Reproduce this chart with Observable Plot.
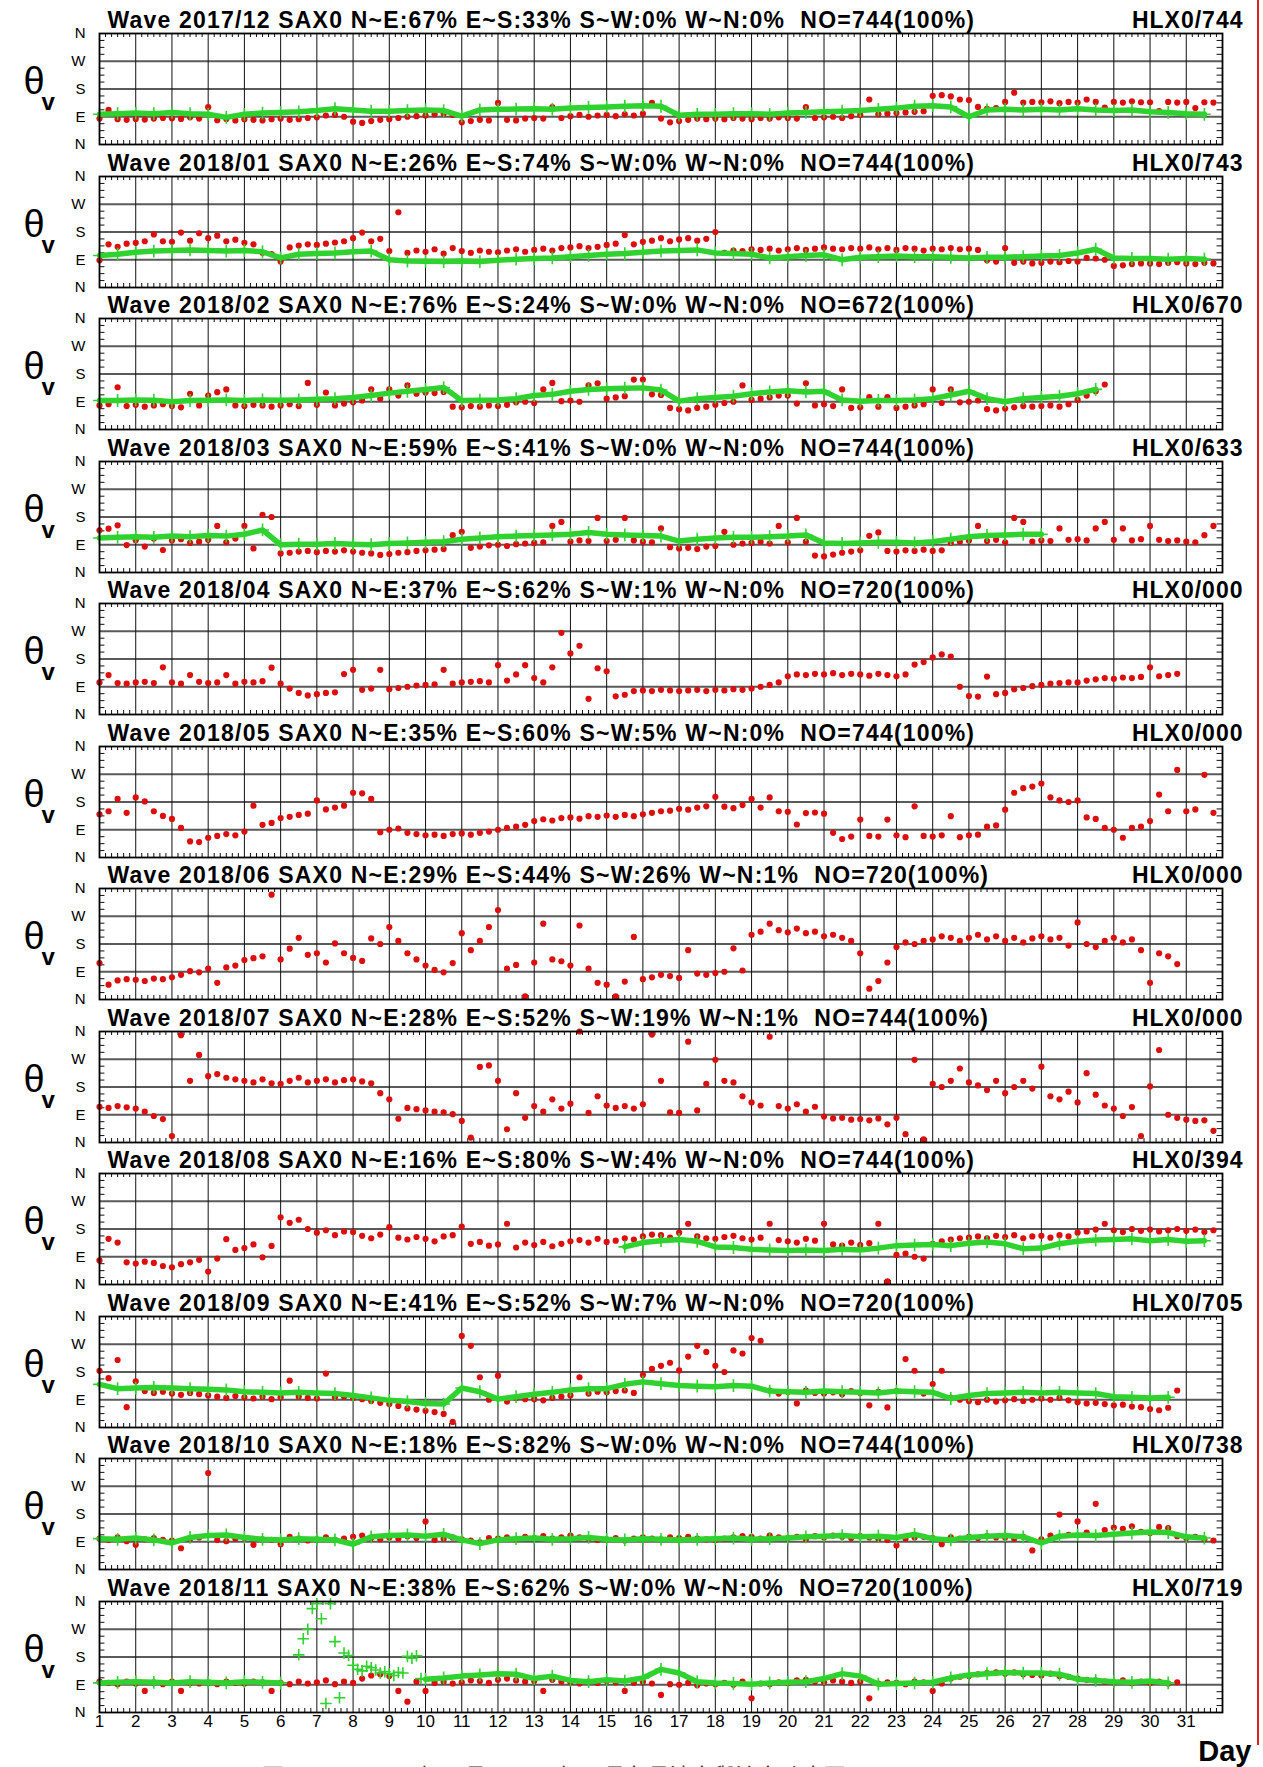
<!DOCTYPE html>
<html><head><meta charset="utf-8">
<script src="https://cdn.jsdelivr.net/npm/d3@7"></script>
<script src="https://cdn.jsdelivr.net/npm/@observablehq/plot@0.6"></script>
<style>
html,body{margin:0;padding:0;background:#fff;}
body{width:1263px;height:1767px;overflow:hidden;position:relative;font-family:"Liberation Sans",Arial,sans-serif;}
#charts{position:absolute;left:0;top:0;width:1263px;height:1767px;}
#charts svg{position:absolute;left:0;overflow:visible;background:transparent;}
#edge{position:absolute;left:1257px;top:0;width:2px;height:1745px;background:#e02020;}
#caption{position:absolute;left:262px;top:1758px;font-size:22px;color:#333;white-space:pre;font-family:"Noto Sans CJK TC",sans-serif;}
</style></head><body>
<div id="charts"></div><div id="edge"></div>
<div id="caption">圖 4.2-1      2017年12月至2018年11月各月波向與流向時序圖</div>
<script>
const months = ["2017/12","2018/01","2018/02","2018/03","2018/04","2018/05","2018/06","2018/07","2018/08","2018/09","2018/10","2018/11"];
const pctNE = [67,26,76,59,37,35,29,28,16,41,18,38];
const pctES = [33,74,24,41,62,60,44,52,80,52,82,62];
const pctSW = [0,0,0,0,1,5,26,19,4,7,0,0];
const pctWN = [0,0,0,0,0,0,1,1,0,0,0,0];
const obsNO = [744,744,672,744,720,744,720,744,744,720,744,720];
const hlxNO = ["744","743","670","633","000","000","000","000","394","705","738","719"];
const dayTicks = d3.range(1, 32);
const dirTicks = [0, 90, 180, 270, 360];
const dirLabels = ["N", "E", "S", "W", "N"];

// wave direction (red), 6-hourly samples starting day 1 00h
const red1712 = [84,112,82,80, 83,81,84,86, 85,83,88,84, 121,79,83,78, 82,80,78,82, 84,80,82,86, 88,94,96,90, 74,70,76,80, 82,86,90,92, 94,98,100,96, 72,76,80,78, 135,80,78,84, 86,84,121,86, 92,96,90,94, 96,92,98,94, 100,135,84,72, 76,80,84,82, 84,82,86,84, 82,86,84,88, 86,84,121,86, 88,90,86,92, 96,146,98,100, 102,104,106,108, 158,160,156,146, 144,122,116,118, 138,168,136,138, 137,140,134,138, 136,146,138,120, 138,136,140,137, 137,108,138,136, 138,118,137,136];
const red1801 = [88,140,132,142, 145,150,172,150, 148,178,152,176, 160,168,150,155, 145,140,112,108, 84,130,136,140, 138,142,146,150, 160,178,150,158, 118,244,112,120, 116,124,110,128, 118,112,120,116, 114,120,124,116, 122,126,120,128, 130,134,128,132, 138,142,170,140, 148,152,160,150, 156,160,152,158, 180,112,120,118, 124,122,126,120, 124,128,122,126, 130,126,124,128, 126,130,124,128, 122,128,126,120, 126,124,128,124, 126,122,88,84, 128,80,84,78, 80,84,82,86, 84,96,94,90, 70,72,76,78, 78,76,80,82, 78,76,80,78];
const red1802 = [78,82,137,76, 80,74,78,82, 76,72,116,78, 110,121,130,78, 76,80,78,74, 78,82,76,151, 80,120,78,84, 88,94,130,100, 130,110,143,116, 120,118,122,74, 72,76,74,78, 76,80,88,90, 86,130,151,92, 94,90,143,150, 100,104,108,162, 162,114,112,70, 66,62,70,74, 80,86,90,143, 96,100,104,110, 110,84,150,78, 82,76,130,70, 72,105,74,105, 70,74,78,82, 130,86,130,88, 90,94,66,62, 68,72,76,74, 76,78,74,82, 96,110,124,146];
const red1803 = [137,142,153,89, 105,84,110,73, 104,108,96,100, 106,151,98,110, 151,78,187,180, 62,64,68,70, 66,70,68,72, 68,64,62,57, 60,64,66,70, 72,74,76,121, 132,80,84,88, 90,86,92,94, 96,98,151,164, 100,104,102,177, 102,106,177,104, 100,98,143,82, 78,80,76,84, 86,132,90,94, 96,100,94,151, 98,177,100,55, 52,58,64,68, 72,119,130,70, 68,72,70,74, 70,72,96,100, 104,151,102,106, 98,177,164,100, 104,102,143,106, 108,104,143,164, 106,143,104,108, 151,106,102,104, 100,98,121,151];
const red1804 = [104,128,102,100, 104,106,102,153, 104,100,128,106, 102,104,128,100, 106,104,108,152, 100,84,70,62, 66,70,72,131, 145,80,84,145, 82,86,90,94, 96,98,145,100, 104,106,108,104, 160,110,130,160, 118,104,153,265, 198,223,51,150, 140,59,64,76, 78,76,80,78, 76,78,80,76, 80,78,82,80, 84,90,96,104, 124,130,128,132, 130,134,128,132, 130,126,132,128, 124,130,162,170, 185,195,188,90, 60,58,123,66, 70,82,86,92, 96,100,102,104, 104,110,114,118, 116,120,118,122, 153,124,128,132];
const red1805 = [140,150,190,145, 195,182,150,135, 125,96,52,50, 64,70,76,72, 84,168,106,112, 128,132,138,142, 185,156,162,168, 210,208,190,82, 90,94,80,76, 72,74,70,76, 78,74,80,84, 90,96,100,106, 118,124,120,128, 130,126,134,132, 136,132,138,134, 140,145,150,152, 158,155,162,166, 197,165,160,170, 190,162,195,150, 148,107,144,146, 142,80,60,68, 123,70,68,123, 72,66,166,70, 68,72,134,66, 72,74,100,104, 155,210,225,230, 240,195,185,180, 185,130,125,96, 90,64,96,100, 118,204,150,284, 150,156,268,145];
const red1806 = [118,48,62,66, 64,60,68,66, 72,80,92,88, 100,54,104,110, 128,134,140,340, 130,165,200,145, 150,120,182,150, 135,125,198,180, 235,190,150,130, 110,96,88,118, 215,160,190,235, 290,100,112,10, 120,246,130,124, 110,240,100,54, 48,10,58,203, 66,72,80,76, 70,160,84,80, 86,90,166,94, 210,220,246,225, 218,230,215,220, 205,210,200,190, 150,35,60,120, 170,185,180,190, 195,205,200,190, 200,210,195,205, 190,200,185,198, 205,195,200,175, 250,180,170,190, 200,185,195,160, 54,150,140,115];
const red1807 = [116,112,118,114, 110,100,86,76, 21,348,200,284, 215,222,210,205, 200,195,205,192, 190,200,210,195, 200,205,195,202, 205,198,192,160, 140,77,112,108, 104,100,98,92, 70,16,245,250, 200,43,160,80, 118,100,140,110, 126,360,96,150, 120,112,118,110, 124,350,200,98, 96,327,104,190, 268,200,195,150, 130,120,343,118, 110,124,100,116, 84,78,80,74, 76,72,78,59, 80,27,268,10, 190,180,200,240, 195,185,170,200, 160,180,200,175, 246,150,140,165, 130,225,155,120, 110,86,115,21, 182,300,90,80, 74,70,72,38];
const red1808 = [78,148,136,72, 68,74,70,60, 56,66,72,80, 42,84,147,112, 118,130,88,125, 218,200,210,180, 168,176,160,172, 170,158,150,162, 186,152,146,154, 148,140,156,160, 188,132,138,126, 130,197,120,136, 128,138,124,132, 140,144,136,148, 138,142,150,146, 156,162,160,152, 168,197,156,150, 148,154,158,150, 146,152,197,144, 140,136,148,142, 197,130,126,136, 128,134,197,10, 96,100,90,84, 132,140,146,150, 152,156,150,158, 154,160,150,156, 158,152,160,156, 168,172,178,197, 176,170,180,174, 178,172,176,180, 174,178,170,176];
const red1809 = [184,160,219,66, 150,118,112,116, 110,106,112,108, 104,100,96,102, 98,94,100,92, 98,152,100,96, 94,175,98,100, 96,92,86,80, 76,70,62,58, 54,50,44,18, 297,265,163,90, 168,84,96,92, 92,88,96,100, 104,163,110,116, 114,118,120,112, 170,190,200,210, 185,230,265,245, 200,180,250,240, 290,281,120,110, 116,78,120,112, 110,114,108,118, 112,72,116,65, 118,222,184,110, 141,184,96,90, 86,82,90,84, 88,92,86,90, 94,90,96,88, 82,78,80,76, 72,74,68,66, 60,56,64,120];
const red1810 = [100,96,104,92, 80,98,102,96, 94,69,100,104, 313,96,92,100, 102,80,98,96, 82,106,100,94, 98,104,96,100, 106,110,102,98, 104,100,108,102, 156,96,100,104, 98,94,88,102, 100,104,98,106, 102,108,100,104, 110,104,100,96, 98,102,94,100, 104,100,98,104, 102,106,100,98, 96,100,104,108, 106,100,110,104, 102,106,98,108, 104,110,106,102, 108,104,100,96, 78,100,104,106, 102,82,104,100, 106,102,108,104, 104,100,106,62, 98,110,178,112, 156,120,213,128, 136,132,140,122, 118,138,134,108, 102,106,98,94];
const red1811 = [100,96,92,100, 94,70,98,92, 100,70,96,94, 98,92,100,96, 94,100,98,70, 96,92,100,94, 98,104,92,100, 96,110,120,124, 118,70,35,100, 70,96,100,94, 98,104,102,96, 106,110,104,100, 102,70,106,100, 98,94,100,96, 102,98,70,96, 100,94,57,92, 90,96,88,94, 92,96,90,100, 46,94,92,98, 96,104,106,100, 98,104,100,96, 100,46,94,98, 96,92,100,98, 70,94,110,116, 118,124,128,130, 126,130,124,122, 120,126,118,116, 110,106,104,100, 98,104,96,100, 96,100,94,98];

// current direction (green), 12-hourly samples
const green1712 = [98,100, 102,100, 104,100, 98,88, 98,102, 104,106, 110,116, 112,108, 108,110, 112,110, 92,112, 114,115, 116,114, 118,120, 122,124, 126,124, 95,98, 98,100, 100,98, 102,104, 106,108, 110,114, 118,124, 126,122, 90,112, 114,112, 114,112, 116,112, 110,112, 106,104, 100,98];
const green1801 = [104,108, 114,118, 120,122, 120,118, 120,116, 96,108, 110,112, 116,118, 90,86, 85,84, 86,84, 88,92, 94,96, 100,104, 108,110, 114,118, 120,122, 112,110, 108,96, 100,104, 106,90, 98,100, 102,100, 100,98, 96,98, 98,100, 102,104, 112,124, 96,94, 94,92, 94,92];
const green1802 = [94,94, 96,95, 90,94, 95,96, 94,96, 95,96, 98,100, 104,110, 118,124, 130,136, 94,95, 96,100, 110,114, 124,130, 132,134, 135,128, 92,100, 104,108, 116,122, 126,122, 124,96, 92,94, 94,96, 100,112, 124,100, 90,100, 104,108, 116,130];
const green1803 = [112,114, 116,114, 118,116, 120,118, 124,138, 90,92, 92,94, 92,90, 94,96, 98,100, 108,112, 116,118, 120,122, 124,130, 124,122, 120,118, 102,108, 112,114, 114,116, 118,122, 96,94, 96,98, 98,96, 100,108, 116,120, 122,124, 124];
const green1808 = [122,136, 142,146, 140,122, 120,114, 112,110, 112,110, 114,112, 118,126, 128,130, 126,134, 138,132, 116,118, 132,140, 144,146, 148,142, 146,140, 142];
const green1809 = [140,126, 128,130, 128,126, 124,122, 116,114, 112,114, 112,110, 104,96, 88,84, 78,76, 128,116, 92,100, 108,114, 122,126, 126,140, 148,142, 136,134, 132,136, 134,118, 116,114, 118,116, 114,112, 118,116, 114,94, 104,110, 112,114, 112,114, 112,110, 100,98, 96,98];
const green1810 = [100,98, 102,96, 86,104, 110,112, 104,98, 96,100, 98,96, 82,106, 110,112, 108,114, 96,84, 96,100, 102,98, 100,104, 98,96, 100,98, 96,98, 100,102, 98,100, 102,106, 108,110, 106,108, 104,114, 100,96, 104,108, 110,106, 86,108, 112,110, 114,118, 122,120, 106,102];
const green1811 = [96,98, 100,98, 96,100, 98,96, 100,98, 96,null, null,null, null,null, null,null, 108,112, 118,122, 126,124, 110,118, 104,100, 106,102, 112,140, 128,100, 96,94, 92,96, 98,100, 110,126, 118,92, 94,96, 98,112, 122,126, 130,128, 128,124, 108,104, 100,98, 102,96];
// scattered current readings 2018/11, 3-hourly from day 6.5
const greenScatter1811 = [187,239,270,337,353,304,29,353,230,48,193,185,153,140,135,150,145,138,128,132,126,120,130,128,182,176,184,110];

const redSeries = [red1712,red1801,red1802,red1803,red1804,red1805,red1806,red1807,red1808,red1809,red1810,red1811];
const greenSeries = [green1712,green1801,green1802,green1803,null,null,null,null,green1808,green1809,green1810,green1811];
const greenStart = [1,1,1,1,null,null,null,null,15.5,1,1,1];

const RED = "#dc0f0f", GREEN = "#2fd22f";
const PITCH = 142.5;
const minorX = d3.range(1, 32).flatMap(d => [1,2,3,4,5].map(k => d + k / 6));
const minorY = d3.range(0, 360, 22.5).filter(v => v % 90 !== 0);
const container = document.getElementById("charts");

months.forEach((m, i) => {
  const last = i === months.length - 1;
  const red = redSeries[i].map((v, k) => ({t: 1 + k / 4, v}));
  const gArr = greenSeries[i];
  const green = gArr ? gArr.map((v, k) => ({t: greenStart[i] + k / 2, v})) : [];
  const scatter = last ? greenScatter1811.map((v, k) => ({t: 6.5 + k / 8, v})) : [];
  const title = `Wave ${m} SAX0 N~E:${pctNE[i]}% E~S:${pctES[i]}% S~W:${pctSW[i]}% W~N:${pctWN[i]}%\u00a0 NO=${obsNO[i]}(100%)`;
  const marks = [
    Plot.ruleY([90, 180, 270], {stroke: "#5a5a5a", strokeWidth: 2}),
    Plot.ruleX(d3.range(2, 32), {stroke: "#111", strokeWidth: 1}),
    Plot.ruleX(minorX, {y1: 360, y2: 347, stroke: "#111", strokeWidth: 1}),
    Plot.ruleX(minorX, {y1: 0, y2: 13, stroke: "#111", strokeWidth: 1}),
    Plot.ruleY(minorY, {x1: 1, x2: 1.15, stroke: "#111", strokeWidth: 1}),
    Plot.ruleY(minorY, {x1: 32, x2: 31.85, stroke: "#111", strokeWidth: 1}),
    Plot.dot(red, {x: "t", y: "v", r: 3.1, fill: RED}),
    Plot.line(green, {x: "t", y: "v", stroke: GREEN, strokeWidth: 5.5}),
    Plot.dot(green, {x: "t", y: "v", symbol: "plus", r: 4.2, stroke: GREEN, strokeWidth: 1.6}),
    Plot.dot(scatter, {x: "t", y: "v", symbol: "plus", r: 3.8, stroke: GREEN, strokeWidth: 1.6}),
    Plot.frame({stroke: "#000", strokeWidth: 1.8}),
    Plot.text(dirTicks, {y: d => d, text: (d, j) => dirLabels[j], frameAnchor: "left", dx: -14, textAnchor: "end", fontSize: 15}),
    Plot.text([title], {text: d => d, frameAnchor: "top-left", lineAnchor: "middle", dx: 8, dy: -13, textAnchor: "start", fontSize: 23, fontWeight: "bold"}),
    Plot.text([`HLX0/${hlxNO[i]}`], {text: d => d, frameAnchor: "top-right", lineAnchor: "middle", dx: 21, dy: -13, textAnchor: "end", fontSize: 23, fontWeight: "bold"}),
    Plot.text(["θ"], {text: d => d, frameAnchor: "left", lineAnchor: "middle", dx: -76, dy: -7, fontSize: 38}),
    Plot.text(["v"], {text: d => d, frameAnchor: "left", lineAnchor: "middle", dx: -58, dy: 13, fontSize: 24, fontWeight: "bold"})
  ];
  if (last) {
    marks.push(Plot.text(dayTicks, {x: d => d, text: d => String(d), frameAnchor: "bottom", lineAnchor: "middle", dy: 9, fontSize: 17}));
    marks.push(Plot.text(["Day"], {text: d => d, frameAnchor: "bottom-right", lineAnchor: "middle", dx: 29, dy: 39, textAnchor: "end", fontSize: 29, fontWeight: "bold"}));
  }
  const svg = Plot.plot({
    width: 1263,
    height: last ? 200 : 154,
    marginTop: 33, marginLeft: 99, marginRight: 41, marginBottom: last ? 56 : 10,
    x: {domain: [1, 32], axis: null},
    y: {domain: [0, 360], axis: null},
    style: {fontFamily: "'Liberation Sans', Arial, sans-serif", color: "#000", background: "transparent", overflow: "visible"},
    marks
  });
  svg.style.top = Math.round(i * PITCH) + "px";
  svg.querySelectorAll("text").forEach(t => {
    if (t.textContent.startsWith("Wave")) t.setAttribute("letter-spacing", "1.2");
    if (t.textContent.startsWith("HLX")) t.setAttribute("letter-spacing", "1");
  });
  container.appendChild(svg);
});
</script>
</body></html>
